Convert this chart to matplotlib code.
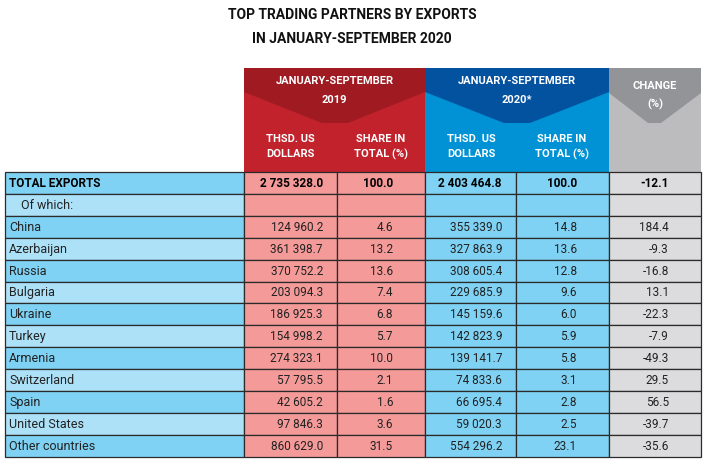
import matplotlib.pyplot as plt
from matplotlib.patches import Rectangle, Polygon

plt.rcParams['font.family'] = ['Roboto', 'DejaVu Sans']

# ---------------- data ----------------
countries = ['China', 'Azerbaijan', 'Russia', 'Bulgaria', 'Ukraine', 'Turkey',
             'Armenia', 'Switzerland', 'Spain', 'United States', 'Other countries']
exp_2019 = [124960.2, 361398.7, 370752.2, 203094.3, 186925.3, 154998.2,
            274323.1, 57795.5, 42605.2, 97846.3, 860629.0]
share_2019 = [4.6, 13.2, 13.6, 7.4, 6.8, 5.7, 10.0, 2.1, 1.6, 3.6, 31.5]
exp_2020 = [355339.0, 327863.9, 308605.4, 229685.9, 145159.6, 142823.9,
            139141.7, 74833.6, 66695.4, 59020.3, 554296.2]
share_2020 = [14.8, 13.6, 12.8, 9.6, 6.0, 5.9, 5.8, 3.1, 2.8, 2.5, 23.1]
change = [184.4, -9.3, -16.8, 13.1, -22.3, -7.9, -49.3, 29.5, 56.5, -39.7, -35.6]

total_label = 'TOTAL EXPORTS'
total_vals = [2735328.0, 100.0, 2403464.8, 100.0, -12.1]

title = 'TOP TRADING PARTNERS BY EXPORTS\nIN JANUARY-SEPTEMBER 2020'

# ---------------- layout (pixels) ----------------
W, H = 713, 468
col_x = [5, 244, 337, 425, 516, 609, 701]
row_top = 172
row_h = 21.9

c_red, c_red_dk, c_pink = '#c1222b', '#a01b21', '#f49a99'
c_blue, c_blue_dk, c_lblue = '#0092d4', '#0352a0', '#7fd2f4'
c_llblue = '#ade1f8'
c_gray, c_gray_dk, c_lgray = '#bcbcbe', '#939497', '#dcdcde'
line_c = '#2b2b2b'


def fmt(v):
    return f'{v:,.1f}'.replace(',', ' ')


fig = plt.figure(figsize=(W / 100, H / 100), dpi=100)
ax = fig.add_axes([0, 0, 1, 1])
ax.set_xlim(0, W)
ax.set_ylim(H, 0)
ax.axis('off')

# title
ax.text(352, 27, title, ha='center', va='center', fontsize=10,
        fontweight='bold', linespacing=1.85, color='#111111')

# ---------------- header blocks ----------------
top = 68
# 2019
ax.add_patch(Rectangle((col_x[1], top), col_x[3] - col_x[1], row_top - top, color=c_red, lw=0))
ax.add_patch(Polygon([(col_x[1], top), (col_x[3], top), (col_x[3], 92), (348, 123),
                      (322, 123), (col_x[1], 92)], closed=True, color=c_red_dk, lw=0))
# 2020
ax.add_patch(Rectangle((col_x[3], top), col_x[5] - col_x[3], row_top - top, color=c_blue, lw=0))
ax.add_patch(Polygon([(col_x[3], top), (col_x[5], top), (col_x[5], 92), (530, 123),
                      (504, 123), (col_x[3], 92)], closed=True, color=c_blue_dk, lw=0))
# change
ax.add_patch(Rectangle((col_x[5], top), col_x[6] - col_x[5], row_top - top, color=c_gray, lw=0))
ax.add_patch(Polygon([(col_x[5], top), (col_x[6], top), (col_x[6], 93), (661, 123),
                      (648, 123), (col_x[5], 93)], closed=True, color=c_gray_dk, lw=0))

hdr = dict(ha='center', va='center', color='white', fontsize=8, fontweight='bold')
ax.text((col_x[1] + col_x[3]) / 2, 81, 'JANUARY-SEPTEMBER', **hdr)
ax.text((col_x[1] + col_x[3]) / 2, 100, '2019', **hdr)
ax.text((col_x[3] + col_x[5]) / 2, 81, 'JANUARY-SEPTEMBER', **hdr)
ax.text((col_x[3] + col_x[5]) / 2, 100, '2020*', **hdr)
ax.text((col_x[5] + col_x[6]) / 2, 86, 'CHANGE', **hdr)
ax.text((col_x[5] + col_x[6]) / 2, 104, '(%)', **hdr)
for i in (1, 3):
    ax.text(290 if i == 1 else 471, 139, 'THSD. US', **hdr)
    ax.text(290 if i == 1 else 471, 154, 'DOLLARS', **hdr)
    ax.text(381 if i == 1 else 562, 139, 'SHARE IN', **hdr)
    ax.text(381 if i == 1 else 562, 154, 'TOTAL (%)', **hdr)

# ---------------- body ----------------
labels = [total_label, 'Of which:'] + countries
n = len(labels)
right_x = [None, 323, 393, 502, 577, 669]

for r in range(n):
    y0 = row_top + r * row_h
    yc = y0 + row_h / 2 + 0.5
    left_c = c_lblue if r % 2 == 0 else c_llblue
    fills = [left_c, c_pink, c_pink, c_lblue, c_lblue, c_lgray]
    for c in range(6):
        ax.add_patch(Rectangle((col_x[c], y0), col_x[c + 1] - col_x[c], row_h,
                               facecolor=fills[c], edgecolor=line_c, lw=0.9))
    if r == 0:
        ax.text(9, yc, labels[r], ha='left', va='center', fontsize=8.5, fontweight='bold')
        vals = [fmt(v) for v in total_vals]
        for c in range(5):
            ax.text(right_x[c + 1], yc, vals[c], ha='right', va='center',
                    fontsize=8.5, fontweight='bold')
    elif r == 1:
        ax.text(21, yc, labels[r], ha='left', va='center', fontsize=9, color='#222222')
    else:
        k = r - 2
        ax.text(9, yc, labels[r], ha='left', va='center', fontsize=9, color='#222222')
        vals = [fmt(exp_2019[k]), fmt(share_2019[k]), fmt(exp_2020[k]),
                fmt(share_2020[k]), fmt(change[k])]
        for c in range(5):
            ax.text(right_x[c + 1], yc, vals[c], ha='right', va='center',
                    fontsize=8.5, color='#222222')

fig.savefig('out.png', dpi=100)
